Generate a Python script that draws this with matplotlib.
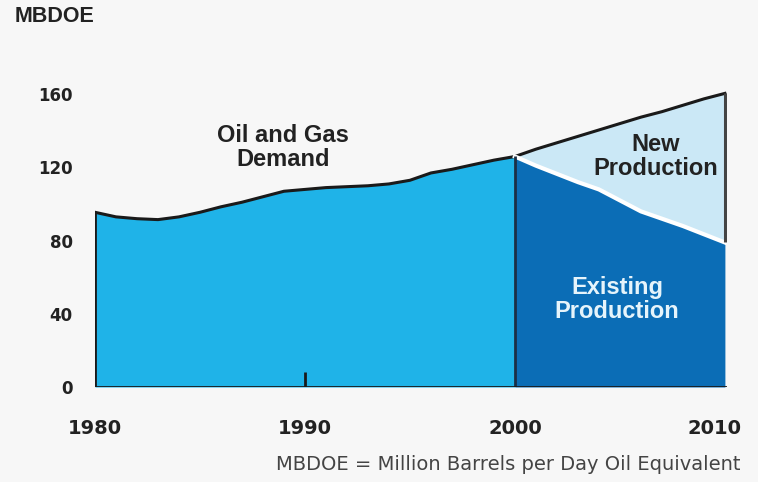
import numpy as np
import matplotlib.pyplot as plt
import matplotlib.transforms as mtransforms

plt.rcParams['font.family'] = ['Liberation Sans', 'DejaVu Sans']

# historical demand 1980-2000 (MBDOE)
years_hist = np.arange(1980, 2001)
demand_hist = [95.5, 93, 92, 91.5, 93, 95.5, 98.5, 101, 104, 107, 108,
               109, 109.5, 110, 111, 113, 117, 119, 121.5, 124, 126]

# outlook 2000-2010
years_fut = np.arange(2000, 2011)
demand_fut = [126, 130, 133.5, 137, 140.5, 144, 147.5, 150.5, 154, 157.5, 160.5]
existing_fut = [126, 121, 116.5, 112, 108, 102, 96, 92, 88, 83.5, 79]

xticks = [1980, 1990, 2000, 2010]
yticks = [0, 40, 80, 120, 160]

bg = '#f7f7f7'
c_demand = '#1fb3e8'
c_exist = '#0b6db6'
c_new = '#cbe8f6'
dark = '#222222'

fig = plt.figure(figsize=(7.58, 4.82), dpi=100, facecolor=bg)
ax = fig.add_axes([95/758, (482-387)/482, 632/758, 311/482])
ax.set_facecolor(bg)

ax.fill_between(years_hist, 0, demand_hist, color=c_demand, lw=0)
ax.fill_between(years_fut, 0, existing_fut, color=c_exist, lw=0)
ax.fill_between(years_fut, existing_fut, demand_fut, color=c_new, lw=0)

# outlines
ax.plot(years_hist, demand_hist, color='#1a1a1a', lw=2.2)
ax.plot(years_fut, demand_fut, color='#1a1a1a', lw=2.2)
ax.plot(years_fut, existing_fut, color='white', lw=3)
ax.vlines(years_hist[0], 0, demand_hist[0], color='#1a1a1a', lw=2)
ax.vlines(years_fut[0], 0, demand_fut[0], color='#1c2f45', lw=2)
ax.vlines(years_fut[-1], existing_fut[-1], demand_fut[-1], color='#444444', lw=2.2)
ax.axhline(0, color='#1a1a1a', lw=2)
ax.vlines(1990, 0, 8, color='#1a1a1a', lw=2)

ax.set_xlim(1980, 2010.1)
ax.set_ylim(0, 170)
for s in ax.spines.values():
    s.set_visible(False)

ax.set_xticks(xticks)
ax.set_xticklabels([str(x) for x in xticks], fontsize=14, fontweight='bold',
                   color=dark, family='DejaVu Sans')
ax.set_yticks(yticks)
ax.set_yticklabels([str(y) for y in yticks], fontsize=12, fontweight='bold',
                   color=dark, family='DejaVu Sans')
ax.tick_params(axis='x', length=0, pad=23)
ax.tick_params(axis='y', length=0, pad=16)

# nudge the last year label left, as in the original
lbl = ax.get_xticklabels()[-1]
lbl.set_transform(lbl.get_transform() + mtransforms.ScaledTranslation(-10/100, 0, fig.dpi_scale_trans))

ax.text(1988.95, 131, 'Oil and Gas\nDemand', ha='center', va='center',
        fontsize=17, fontweight='bold', color=dark, linespacing=1.05)
ax.text(2006.7, 126, 'New\nProduction', ha='center', va='center',
        fontsize=17, fontweight='bold', color=dark, linespacing=1.05)
ax.text(2004.86, 48, 'Existing\nProduction', ha='center', va='center',
        fontsize=17, fontweight='bold', color='#e6f4fb', linespacing=1.05)

fig.text(15/758, 1 - 17/482, 'MBDOE', ha='left', va='center',
         fontsize=15.5, fontweight='bold', color=dark)
fig.text(740/758, 1 - 465/482, 'MBDOE = Million Barrels per Day Oil Equivalent',
         ha='right', va='center', fontsize=14, color='#444444', family='DejaVu Sans')

fig.savefig('out.png', dpi=100, facecolor=bg)
